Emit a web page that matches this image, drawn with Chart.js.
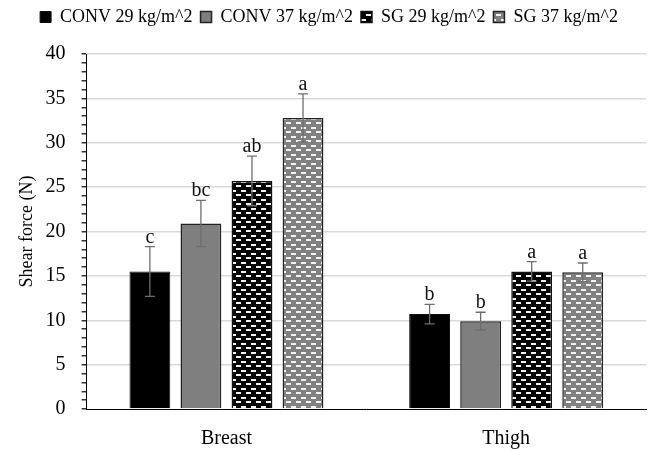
<!DOCTYPE html>
<html>
<head>
<meta charset="utf-8">
<script src="https://cdn.jsdelivr.net/npm/chart.js@4"></script>
<style>
html,body{margin:0;padding:0;background:#fff;}
#wrap{width:654px;height:450px;position:relative;}
</style>
</head>
<body>
<div id="wrap"><canvas id="c" width="654" height="450"></canvas></div>
<script>
const categories = ['Breast', 'Thigh'];
const seriesNames = ['CONV 29 kg/m^2', 'CONV 37 kg/m^2', 'SG 29 kg/m^2', 'SG 37 kg/m^2'];
const conv29 = [15.5, 10.7];
const conv37 = [20.9, 9.9];
const sg29 = [25.7, 15.5];
const sg37 = [32.8, 15.4];
const conv29Err = [2.8, 1.1];
const conv37Err = [2.6, 1.0];
const sg29Err = [2.8, 1.1];
const sg37Err = [2.7, 1.05];
const conv29Letters = ['c', 'b'];
const conv37Letters = ['bc', 'b'];
const sg29Letters = ['ab', 'a'];
const sg37Letters = ['a', 'a'];
const yTickLabels = [0, 5, 10, 15, 20, 25, 30, 35, 40];

function makePattern(bg) {
  const c = document.createElement('canvas');
  c.width = 10; c.height = 9;
  const x = c.getContext('2d');
  x.fillStyle = bg; x.fillRect(0, 0, 10, 9);
  x.fillStyle = '#f2f2f2';
  x.fillRect(1, 1, 5, 2);
  x.fillRect(6, 5, 4, 2);
  x.fillRect(0, 5, 1, 2);
  return x.createPattern(c, 'repeat');
}

const serif = "'Liberation Serif', 'Times New Roman', serif";

const datasets = [
  { label: seriesNames[0], data: conv29, err: conv29Err, letters: conv29Letters, backgroundColor: '#000000', borderColor: '#111', borderWidth: 1 },
  { label: seriesNames[1], data: conv37, err: conv37Err, letters: conv37Letters, backgroundColor: '#7f7f7f', borderColor: '#222', borderWidth: 1.5 },
  { label: seriesNames[2], data: sg29, err: sg29Err, letters: sg29Letters, backgroundColor: makePattern('#000000'), borderColor: '#111', borderWidth: 1.5 },
  { label: seriesNames[3], data: sg37, err: sg37Err, letters: sg37Letters, backgroundColor: makePattern('#808080'), borderColor: '#222', borderWidth: 1.5 }
];

const errPlugin = {
  id: 'errPlugin',
  afterDatasetsDraw(chart) {
    const ctx = chart.ctx;
    const y = chart.scales.y;
    chart.data.datasets.forEach((ds, di) => {
      const meta = chart.getDatasetMeta(di);
      meta.data.forEach((bar, i) => {
        const v = ds.data[i], e = ds.err[i];
        const yt = y.getPixelForValue(v + e), yb = y.getPixelForValue(v - e);
        ctx.save();
        ctx.strokeStyle = '#6e6e6e';
        ctx.lineWidth = 1.3;
        ctx.beginPath();
        ctx.moveTo(bar.x, yt); ctx.lineTo(bar.x, yb);
        ctx.moveTo(bar.x - 5, yt); ctx.lineTo(bar.x + 5, yt);
        ctx.moveTo(bar.x - 5, yb); ctx.lineTo(bar.x + 5, yb);
        ctx.stroke();
        ctx.fillStyle = '#111';
        ctx.font = '20px ' + serif;
        ctx.textAlign = 'center';
        ctx.textBaseline = 'alphabetic';
        ctx.fillText(ds.letters[i], bar.x, yt - 4);
        ctx.restore();
      });
    });
  }
};

const legendMargin = {
  id: 'legendMargin',
  beforeInit(chart) {
    const lg = chart.legend;
    if (!lg) return;
    const orig = lg.fit;
    lg.fit = function () { orig.call(this); this.height += 18; };
  }
};

new Chart(document.getElementById('c'), {
  type: 'bar',
  data: { labels: categories, datasets: datasets },
  plugins: [errPlugin, legendMargin],
  options: {
    responsive: false,
    animation: false,
    devicePixelRatio: 1,
    layout: { padding: { left: 12, right: 8, top: 0, bottom: -11 } },
    datasets: { bar: { categoryPercentage: 0.73, barPercentage: 0.8 } },
    plugins: {
      tooltip: { enabled: false },
      legend: {
        position: 'top',
        labels: {
          color: '#000',
          font: { family: serif, size: 18 },
          boxWidth: 11,
          boxHeight: 11,
          padding: 8
        }
      }
    },
    scales: {
      x: {
        grid: { display: false },
        border: { color: '#000', width: 1 },
        ticks: { color: '#000', font: { family: serif, size: 20 }, padding: 10 }
      },
      y: {
        min: 0, max: 40,
        title: { display: true, text: 'Shear force (N)', color: '#000', font: { family: serif, size: 18 }, padding: { top: 4, bottom: -8 } },
        border: { color: '#000', width: 1 },
        grid: {
          color: (c) => (yTickLabels.includes(c.tick.value) && c.tick.value !== 0) ? '#d9d9d9' : 'rgba(0,0,0,0)',
          tickColor: '#333',
          tickLength: 5,
          lineWidth: 1.5
        },
        ticks: {
          stepSize: 1,
          autoSkip: false,
          color: '#000',
          font: { family: serif, size: 20 },
          padding: 16,
          callback: (v) => yTickLabels.includes(v) ? String(v) : ''
        }
      }
    }
  }
});
</script>
</body>
</html>
